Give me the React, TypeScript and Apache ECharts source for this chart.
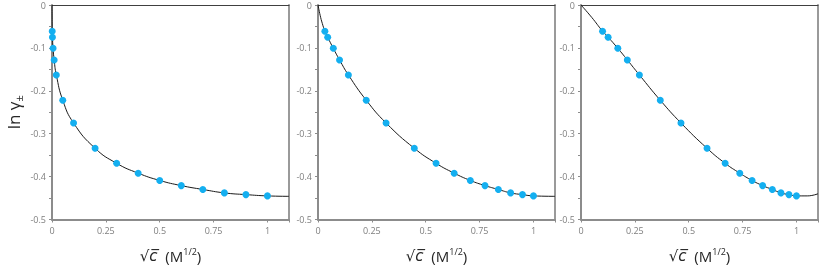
import React, { useEffect, useRef } from "react";
import * as echarts from "echarts";

const concC = [0.001, 0.002, 0.005, 0.01, 0.02, 0.05, 0.1, 0.2, 0.3, 0.4, 0.5, 0.6, 0.7, 0.8, 0.9, 1.0];
const sqrtC = [0.032, 0.045, 0.071, 0.1, 0.141, 0.224, 0.316, 0.447, 0.548, 0.632, 0.707, 0.775, 0.837, 0.894, 0.949, 1.0];
const cbrtC = [0.1, 0.126, 0.171, 0.215, 0.271, 0.368, 0.464, 0.585, 0.669, 0.737, 0.794, 0.843, 0.888, 0.928, 0.965, 1.0];
const lnGamma = [-0.061, -0.075, -0.101, -0.128, -0.163, -0.222, -0.275, -0.334, -0.369, -0.392, -0.409, -0.421, -0.43, -0.438, -0.442, -0.445];

// fitted curve (start / extra / end points per panel)
const curveStart1: number[][] = [[0, 0]];
const curveEnd1: number[][] = [[1.1, -0.446]];
const curveStart2: number[][] = [[0, 0], [0.01, -0.024], [0.02, -0.043]];
const curveEnd2: number[][] = [[1.1, -0.446]];
const curveStart3: number[][] = [[0, 0], [0.05, -0.029]];
const curveEnd3: number[][] = [[1.05, -0.445], [1.1, -0.44]];

const yTicks = ["0", "-0.1", "-0.2", "-0.3", "-0.4", "-0.5"];

const grids = [52, 318, 581];

export default function App() {
  const ref = useRef<HTMLDivElement>(null);
  useEffect(() => {
    if (!ref.current) return;
    const chart = echarts.init(ref.current, null, { renderer: "svg" });
    const xsList = [concC, sqrtC, cbrtC];
    const starts = [curveStart1, curveStart2, curveStart3];
    const ends = [curveEnd1, curveEnd2, curveEnd3];
    const labelFont = { color: "#7f7f7f", fontSize: 9, fontFamily: "Open Sans" };

    const grid: any[] = grids.map((left) => ({ left, top: 5, width: 237, height: 222, show: false }));
    const xAxis: any[] = [];
    const yAxis: any[] = [];
    const series: any[] = [];

    grids.forEach((_, i) => {
      xAxis.push({
        type: "value",
        gridIndex: i,
        min: 0,
        max: 1.1,
        interval: 0.25,
        position: "bottom",
        axisLine: { show: true, onZero: false, lineStyle: { color: "#8c8c8c", width: 2 } },
        axisTick: { show: true, length: 3, lineStyle: { color: "#8c8c8c" } },
        splitLine: { show: false },
        axisLabel: {
          ...labelFont,
          margin: 6,
          formatter: (v: number) => (v > 1.0001 ? "" : String(+v.toFixed(2))),
        },
        name: "{s|√}{c|c̅}{n|  (M}{sup|1/2}{n|)}",
        nameLocation: "middle",
        nameGap: 27,
        nameTextStyle: {
          rich: {
            s: { fontSize: 15, fontFamily: "DejaVu Sans", color: "#262626", lineHeight: 18 },
            c: { fontSize: 15, fontFamily: "DejaVu Sans", fontStyle: "italic", color: "#262626", lineHeight: 18 },
            n: { fontSize: 15, fontFamily: "Open Sans", color: "#262626", lineHeight: 18 },
            sup: { fontSize: 9, fontFamily: "Open Sans", color: "#262626", verticalAlign: "top", lineHeight: 18 },
          },
        },
      });
      xAxis.push({
        type: "value",
        gridIndex: i,
        min: 0,
        max: 1.1,
        position: "top",
        axisLine: { show: true, onZero: false, lineStyle: { color: "#404040", width: 1 } },
        axisTick: { show: false },
        axisLabel: { show: false },
        splitLine: { show: false },
      });
      yAxis.push({
        type: "value",
        gridIndex: i,
        min: -0.5,
        max: 0,
        interval: 0.1,
        position: "left",
        axisLine: { show: true, onZero: false, lineStyle: { color: "#8c8c8c", width: 2 } },
        axisTick: { show: true, length: 3, lineStyle: { color: "#8c8c8c" } },
        minorTick: { show: true, splitNumber: 2, length: 3, lineStyle: { color: "#8c8c8c" } },
        splitLine: { show: false },
        axisLabel: {
          ...labelFont,
          margin: 6,
          formatter: (v: number) => yTicks[Math.round(-v * 10)] ?? "",
        },
        ...(i === 0
          ? {
              name: "{a|ln }{g|γ}{pm|±}",
              nameLocation: "middle",
              nameGap: 28,
              nameRotate: 90,
              nameTextStyle: {
                rich: {
                  a: { fontSize: 17, fontFamily: "Open Sans", color: "#262626", lineHeight: 22 },
                  g: { fontSize: 17, fontFamily: "Open Sans", color: "#262626", lineHeight: 22 },
                  pm: { fontSize: 11, fontFamily: "Open Sans", color: "#262626", verticalAlign: "bottom", lineHeight: 22 },
                },
              },
            }
          : {}),
      });
      yAxis.push({
        type: "value",
        gridIndex: i,
        min: -0.5,
        max: 0,
        position: "right",
        axisLine: { show: true, onZero: false, lineStyle: { color: "#9a9a9a", width: 2 } },
        axisTick: { show: false },
        axisLabel: { show: false },
        splitLine: { show: false },
      });

      const xs = xsList[i];
      const pts = xs.map((x, k) => [x, lnGamma[k]]);
      series.push({
        type: "line",
        xAxisIndex: i * 2,
        yAxisIndex: i * 2,
        data: [...starts[i], ...pts, ...ends[i]],
        showSymbol: false,
        smooth: 0.5,
        lineStyle: { color: "#1a1a1a", width: 1 },
        z: 2,
      });
      series.push({
        type: "scatter",
        xAxisIndex: i * 2,
        yAxisIndex: i * 2,
        data: pts,
        symbol: "circle",
        symbolSize: 7,
        itemStyle: { color: "#14aff0", opacity: 1 },
        z: 3,
      });
    });

    chart.setOption({ animation: false, grid, xAxis, yAxis, series });
    return () => chart.dispose();
  }, []);
  return <div ref={ref} style={{ position: "fixed", left: 0, top: 0, width: 830, height: 268 }} />;
}
